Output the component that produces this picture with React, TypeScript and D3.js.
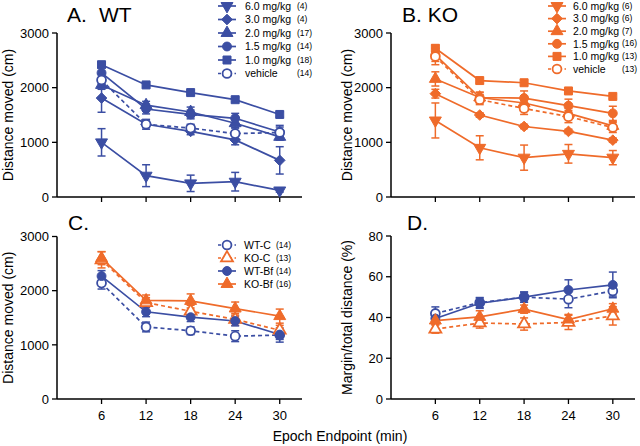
import React from "react";
import * as d3 from "d3";

const times = [6, 12, 18, 24, 30];
const xDomainMax = 33;
const yTicksDist = [0, 1000, 2000, 3000];
const yTicksPct = [0, 20, 40, 60, 80];

// Panel A (WT) distance moved
const wt60 = [1000, 390, 250, 280, 120];
const wt60Err = [250, 200, 150, 170, 30];
const wt30 = [1810, 1330, 1200, 1045, 670];
const wt30Err = [260, 60, 60, 90, 250];
const wt20 = [2050, 1680, 1555, 1350, 1100];
const wt20Err = [80, 70, 90, 80, 60];
const wt15 = [2270, 1610, 1510, 1440, 1190];
const wt15Err = [100, 90, 80, 90, 90];
const wt10 = [2420, 2050, 1910, 1780, 1510];
const wt10Err = [50, 40, 40, 40, 50];
const wtVeh = [2140, 1330, 1260, 1160, 1180];
const wtVehErr = [110, 90, 70, 100, 130];

// Panel B (KO) distance moved
const ko60 = [1400, 900, 720, 790, 720];
const ko60Err = [320, 220, 230, 170, 130];
const ko30 = [1890, 1500, 1290, 1200, 1040];
const ko30Err = [80, 40, 40, 40, 40];
const ko20 = [2160, 1820, 1720, 1530, 1300];
const ko20Err = [130, 90, 100, 90, 80];
const ko15 = [2600, 1820, 1810, 1670, 1530];
const ko15Err = [120, 100, 130, 120, 130];
const ko10 = [2720, 2130, 2090, 1940, 1840];
const ko10Err = [60, 50, 50, 50, 40];
const koVeh = [2570, 1780, 1620, 1470, 1270];
const koVehErr = [150, 90, 110, 110, 90];

// Panel D margin/total distance (%)
const dWtC = [42, 47.3, 50, 49, 53];
const dWtCErr = [3.2, 2.5, 2.5, 4.2, 2.5];
const dKoC = [34.3, 37.3, 36.8, 37.6, 40.8];
const dKoCErr = [2, 2.5, 3, 3.5, 4.5];
const dWtBf = [39.5, 47, 50, 53.5, 56];
const dWtBfErr = [2.5, 2.5, 2.5, 5, 6.3];
const dKoBf = [38.5, 40.3, 44.1, 39, 44.3];
const dKoBfErr = [2, 3, 2, 2.5, 2.5];

const BLUE = "#3b4ea3";
const ORANGE = "#ef6b2a";
const FONT = "'Liberation Sans', Arial, Helvetica, sans-serif";

type Shape = "triDown" | "diamond" | "tri" | "circle" | "square";
type Series = {
  label: string;
  n: string;
  color: string;
  shape: Shape;
  open?: boolean;
  dashed?: boolean;
  values: number[];
  errs: number[];
};

const doseLabels = ["6.0 mg/kg", "3.0 mg/kg", "2.0 mg/kg", "1.5 mg/kg", "1.0 mg/kg", "vehicle"];
const wtN = ["(4)", "(4)", "(17)", "(14)", "(18)", "(14)"];
const koN = ["(6)", "(6)", "(7)", "(16)", "(13)", "(13)"];
const doseShapes: Shape[] = ["triDown", "diamond", "tri", "circle", "square", "circle"];

const wtVals = [wt60, wt30, wt20, wt15, wt10, wtVeh];
const wtErrs = [wt60Err, wt30Err, wt20Err, wt15Err, wt10Err, wtVehErr];
const koVals = [ko60, ko30, ko20, ko15, ko10, koVeh];
const koErrs = [ko60Err, ko30Err, ko20Err, ko15Err, ko10Err, koVehErr];

function doseSeries(vals: number[][], errs: number[][], ns: string[], color: string): Series[] {
  return doseLabels.map((label, i) => ({
    label,
    n: ns[i],
    color,
    shape: doseShapes[i],
    open: i === 5,
    dashed: i === 5,
    values: vals[i],
    errs: errs[i],
  }));
}

const seriesA = doseSeries(wtVals, wtErrs, wtN, BLUE);
const seriesB = doseSeries(koVals, koErrs, koN, ORANGE);

const seriesC: Series[] = [
  { label: "WT-C", n: "(14)", color: BLUE, shape: "circle", open: true, dashed: true, values: wtVeh, errs: wtVehErr },
  { label: "KO-C", n: "(13)", color: ORANGE, shape: "tri", open: true, dashed: true, values: koVeh, errs: koVehErr },
  { label: "WT-Bf", n: "(14)", color: BLUE, shape: "circle", values: wt15, errs: wt15Err },
  { label: "KO-Bf", n: "(16)", color: ORANGE, shape: "tri", values: ko15, errs: ko15Err },
];

const seriesD: Series[] = [
  { label: "WT-C", n: "(14)", color: BLUE, shape: "circle", open: true, dashed: true, values: dWtC, errs: dWtCErr },
  { label: "KO-C", n: "(13)", color: ORANGE, shape: "tri", open: true, dashed: true, values: dKoC, errs: dKoCErr },
  { label: "WT-Bf", n: "(14)", color: BLUE, shape: "circle", values: dWtBf, errs: dWtBfErr },
  { label: "KO-Bf", n: "(16)", color: ORANGE, shape: "tri", values: dKoBf, errs: dKoBfErr },
];

function symbolPath(shape: Shape): string {
  const anyD3 = d3 as any;
  switch (shape) {
    case "square":
      return d3.symbol(d3.symbolSquare, 64)() as string;
    case "circle":
      return d3.symbol(d3.symbolCircle, 62)() as string;
    case "tri":
    case "triDown":
      return d3.symbol(d3.symbolTriangle, 62)() as string;
    case "diamond":
      return d3.symbol(anyD3.symbolDiamond2 || d3.symbolDiamond, 72)() as string;
  }
}

function Marker({ s, cx, cy }: { s: Series; cx: number; cy: number }) {
  const rot = s.shape === "triDown" ? " rotate(180)" : "";
  return (
    <path
      d={symbolPath(s.shape)}
      transform={`translate(${cx},${cy})${rot}`}
      fill={s.open ? "#fff" : s.color}
      stroke={s.color}
      strokeWidth={s.open ? 1.8 : 1}
    />
  );
}

type PanelProps = {
  x0: number;
  x1: number;
  y0: number;
  y1: number;
  yMax: number;
  yTicks: number[];
  xLabels: boolean;
  series: Series[];
  yTitle: string;
  yTitleX: number;
};

function Panel({ x0, x1, y0, y1, yMax, yTicks, xLabels, series, yTitle, yTitleX }: PanelProps) {
  const x = d3.scaleLinear().domain([0, xDomainMax]).range([x0, x1]);
  const y = d3.scaleLinear().domain([0, yMax]).range([y0, y1]);
  const line = d3
    .line<number>()
    .x((_, i) => x(times[i]))
    .y((d) => y(d));
  const cap = 4;
  return (
    <g>
      <line x1={x0} x2={x0} y1={y0} y2={y1} stroke="#000" strokeWidth={1.5} />
      <line x1={x0} x2={x1} y1={y0} y2={y0} stroke="#000" strokeWidth={1.5} />
      {yTicks.map((t) => (
        <g key={t}>
          <line x1={x0 - 5} x2={x0} y1={y(t)} y2={y(t)} stroke="#000" strokeWidth={1.3} />
          <text x={x0 - 8} y={y(t)} dy="0.36em" textAnchor="end" fontSize={13} fontFamily={FONT}>
            {t}
          </text>
        </g>
      ))}
      {times.map((t) => (
        <g key={t}>
          <line x1={x(t)} x2={x(t)} y1={y0} y2={y0 + 5} stroke="#000" strokeWidth={1.3} />
          {xLabels && (
            <text x={x(t)} y={y0 + 21} textAnchor="middle" fontSize={13} fontFamily={FONT}>
              {t}
            </text>
          )}
        </g>
      ))}
      <text
        transform={`translate(${yTitleX},${(y0 + y1) / 2}) rotate(-90)`}
        textAnchor="middle"
        fontSize={14}
        fontFamily={FONT}
      >
        {yTitle}
      </text>
      {series.map((s, k) => (
        <path
          key={"l" + k}
          d={line(s.values) as string}
          fill="none"
          stroke={s.color}
          strokeWidth={1.7}
          strokeDasharray={s.dashed ? "4,3" : undefined}
        />
      ))}
      {series.map((s, k) => (
        <g key={"e" + k} stroke={s.color} strokeWidth={1.5}>
          {s.values.map((v, i) => {
            const cx = x(times[i]);
            const hi = y(v + s.errs[i]);
            const lo = y(Math.max(0, v - s.errs[i]));
            return (
              <g key={i}>
                <line x1={cx} x2={cx} y1={hi} y2={lo} />
                <line x1={cx - cap} x2={cx + cap} y1={hi} y2={hi} />
                <line x1={cx - cap} x2={cx + cap} y1={lo} y2={lo} />
              </g>
            );
          })}
        </g>
      ))}
      {series.map((s, k) => (
        <g key={"m" + k}>
          {s.values.map((v, i) => (
            <Marker key={i} s={s} cx={x(times[i])} cy={y(v)} />
          ))}
        </g>
      ))}
    </g>
  );
}

function Legend({
  series,
  cx,
  textX,
  nX,
  y0,
  dy,
  fontSize,
}: {
  series: Series[];
  cx: number;
  textX: number;
  nX: number;
  y0: number;
  dy: number;
  fontSize: number;
}) {
  return (
    <g>
      {series.map((s, i) => {
        const yy = y0 + i * dy;
        return (
          <g key={i}>
            <line
              x1={cx - 9}
              x2={cx + 9}
              y1={yy}
              y2={yy}
              stroke={s.color}
              strokeWidth={1.7}
              strokeDasharray={s.dashed ? "3,2.5" : undefined}
            />
            <Marker s={s} cx={cx} cy={yy} />
            <text x={textX} y={yy} dy="0.36em" fontSize={fontSize} fontFamily={FONT}>
              {s.label}
            </text>
            <text x={nX} y={yy} dy="0.3em" fontSize={8.5} fontFamily={FONT}>
              {s.n}
            </text>
          </g>
        );
      })}
    </g>
  );
}

export default function App() {
  return (
    <svg
      width={640}
      height={446}
      viewBox="0 0 640 446"
      style={{ position: "absolute", left: 0, top: 0, background: "#fff" }}
    >
      <rect width={640} height={446} fill="#fff" />
      {/* Panel A */}
      <Panel x0={57} x1={302} y0={197} y1={33} yMax={3000} yTicks={yTicksDist} xLabels={false}
        series={seriesA} yTitle="Distance moved (cm)" yTitleX={13} />
      <text x={67} y={22} fontSize={21} fontFamily={FONT}>A.</text>
      <text x={99} y={22} fontSize={21} fontFamily={FONT}>WT</text>
      <Legend series={seriesA} cx={227} textX={245} nX={297} y0={6} dy={13.5} fontSize={10.5} />

      {/* Panel B */}
      <Panel x0={391} x1={635} y0={197} y1={33} yMax={3000} yTicks={yTicksDist} xLabels={false}
        series={seriesB} yTitle="Distance moved (cm)" yTitleX={352} />
      <text x={402} y={22} fontSize={21} fontFamily={FONT}>B. KO</text>
      <Legend series={seriesB} cx={557} textX={573} nX={622} y0={6} dy={12.6} fontSize={10.5} />

      {/* Panel C */}
      <Panel x0={57} x1={302} y0={399} y1={236.5} yMax={3000} yTicks={yTicksDist} xLabels={true}
        series={seriesC} yTitle="Distance moved (cm)" yTitleX={13} />
      <text x={68} y={230} fontSize={21} fontFamily={FONT}>C.</text>
      <Legend series={seriesC} cx={227} textX={244} nX={276} y0={245} dy={13} fontSize={10.5} />

      {/* Panel D */}
      <Panel x0={391} x1={635} y0={399} y1={236} yMax={80} yTicks={yTicksPct} xLabels={true}
        series={seriesD} yTitle="Margin/total distance (%)" yTitleX={352} />
      <text x={407} y={230} fontSize={21} fontFamily={FONT}>D.</text>

      <text x={340} y={441} textAnchor="middle" fontSize={14} fontFamily={FONT}>
        Epoch Endpoint (min)
      </text>
    </svg>
  );
}
